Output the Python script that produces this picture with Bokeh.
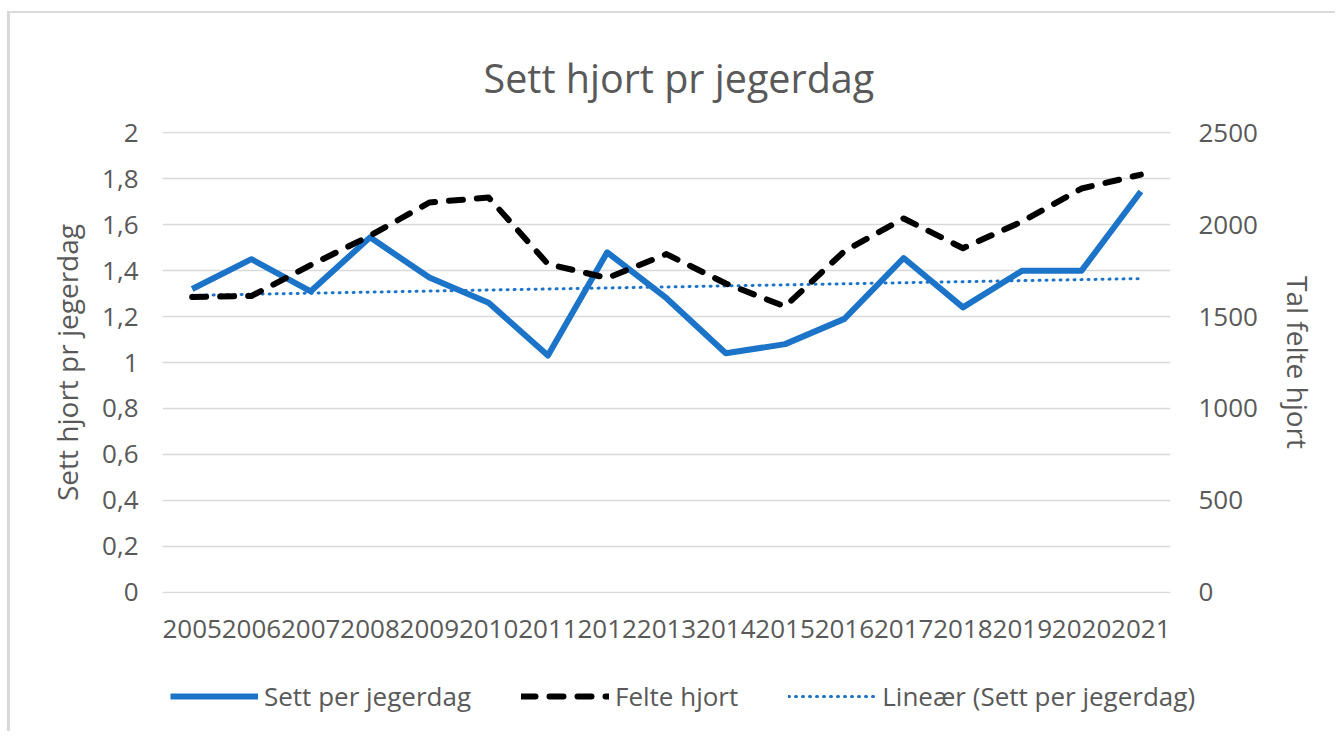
import numpy as np
from bokeh.plotting import figure
from bokeh.models import (Range1d, LinearAxis, FixedTicker, CustomJSTickFormatter,
                          Legend, LegendItem, ColumnDataSource)
from bokeh.embed import file_html
from bokeh.resources import INLINE

# ---- data ----
years = [str(y) for y in range(2005, 2022)]
sett_per_jegerdag = [1.32, 1.45, 1.31, 1.545, 1.37, 1.26, 1.03, 1.48, 1.28,
                     1.04, 1.08, 1.19, 1.455, 1.24, 1.40, 1.40, 1.745]
felte_hjort = [1607, 1612, 1780, 1940, 2121, 2148, 1786, 1710, 1840,
               1680, 1555, 1856, 2034, 1872, 2018, 2197, 2273]
left_ticks = [0, 0.2, 0.4, 0.6, 0.8, 1.0, 1.2, 1.4, 1.6, 1.8, 2.0]
right_ticks = [0, 500, 1000, 1500, 2000, 2500]

title_text = "Sett hjort pr jegerdag"
left_title = "Sett hjort pr jegerdag"
right_title = "Tal felte hjort"
label_sett = "Sett per jegerdag"
label_felte = "Felte hjort"
label_trend = "Lineær (Sett per jegerdag)"

# linear trendline (least squares, like Excel's linear trendline)
idx = np.arange(1, len(years) + 1)
slope, intercept = np.polyfit(idx, np.array(sett_per_jegerdag), 1)
trend = list(slope * idx + intercept)

FONT = "Open Sans"
TXT = "#595959"
BLUE = "#1c74c9"

SETT_STYLE = dict(line_color=BLUE, line_width=6, line_join="round")
TREND_STYLE = dict(line_color=BLUE, line_width=3, line_dash="1 6", line_cap="round")
FELTE_STYLE = dict(line_color="black", line_width=6, line_dash="14 14",
                   line_cap="round", line_join="round")

src = ColumnDataSource(dict(x=years, sett=sett_per_jegerdag, felte=felte_hjort, trend=trend))

W = 1328
p = figure(x_range=years, y_range=Range1d(-0.006, 2.006), width=W, height=650,
           output_backend="svg", toolbar_location=None,
           min_border_left=152, min_border_right=168,
           min_border_top=118, min_border_bottom=70)
p.styles = {"margin-left": "7px", "border-left": "3px solid #d9d9d9",
            "margin-top": "11px", "border-top": "2px solid #d9d9d9"}
p.extra_y_ranges = {"felte": Range1d(-0.006 * 1250, 2.006 * 1250)}
p.outline_line_color = None
p.background_fill_color = "white"
p.border_fill_color = "white"

# title
p.title.text = title_text
p.title.align = "left"
p.title.vertical_align = "top"
p.title.text_font = FONT
p.title.text_font_size = "39.5px"
p.title.text_font_style = "normal"
p.title.text_color = TXT
p.title.standoff = 50
p.title.offset = 321

# grid
p.xgrid.grid_line_color = None
p.ygrid.grid_line_color = "#d9d9d9"
p.ygrid.grid_line_width = 1.6
p.ygrid.ticker = FixedTicker(ticks=left_ticks)

def style_axis(ax):
    ax.axis_line_color = None
    ax.major_tick_line_color = None
    ax.minor_tick_line_color = None
    ax.major_tick_out = 0
    ax.major_tick_in = 0
    ax.major_label_text_font = FONT
    ax.major_label_text_font_size = "26px"
    ax.major_label_text_color = TXT
    ax.axis_label_text_font = FONT
    ax.axis_label_text_font_size = "28px"
    ax.axis_label_text_font_style = "normal"
    ax.axis_label_text_color = TXT

# left axis
ly = p.yaxis[0]
style_axis(ly)
ly.ticker = FixedTicker(ticks=left_ticks)
ly.formatter = CustomJSTickFormatter(code="var s=(Math.round(tick*10)/10).toString(); return s.replace('.', ',');")
ly.axis_label = left_title
ly.major_label_standoff = 24
ly.axis_label_standoff = 13

# x axis
xa = p.xaxis[0]
style_axis(xa)
xa.major_label_standoff = 26

# right axis
ry = LinearAxis(y_range_name="felte", ticker=FixedTicker(ticks=right_ticks))
style_axis(ry)
ry.axis_label = right_title
ry.major_label_standoff = 28
ry.axis_label_standoff = 18
p.add_layout(ry, "right")

# series
p.line("x", "sett", source=src, **SETT_STYLE)
p.line("x", "trend", source=src, **TREND_STYLE)
p.line("x", "felte", source=src, y_range_name="felte", **FELTE_STYLE)

# legend strip: separate figure under the chart; its proxy lines use the same
# data but fall outside this strip's y range, so only the legend is visible
p2 = figure(x_range=years, y_range=Range1d(10000, 10001), width=W, height=70,
            output_backend="svg", toolbar_location=None,
            x_axis_location=None, y_axis_location=None,
            min_border_left=0, min_border_right=0, min_border_top=0, min_border_bottom=0)
p2.styles = {"margin-left": "7px", "border-left": "3px solid #d9d9d9"}
p2.outline_line_color = None
p2.xgrid.visible = False
p2.ygrid.visible = False
l1 = p2.line("x", "sett", source=src, **SETT_STYLE)
l2 = p2.line("x", "felte", source=src, **FELTE_STYLE)
l3 = p2.line("x", "trend", source=src, **TREND_STYLE)
legend = Legend(items=[LegendItem(label=label_sett, renderers=[l1]),
                       LegendItem(label=label_felte, renderers=[l2]),
                       LegendItem(label=label_trend, renderers=[l3])],
                orientation="horizontal", location=(160, 17))
legend.label_text_font = FONT
legend.label_text_font_size = "26px"
legend.label_text_color = TXT
legend.glyph_width = 88
legend.glyph_height = 30
legend.label_height = 30
legend.label_standoff = 6
legend.spacing = 50
legend.padding = 0
legend.margin = 0
legend.border_line_color = None
legend.background_fill_alpha = 0
p2.add_layout(legend)

open("out.html", "w").write(file_html([p, p2], INLINE))
